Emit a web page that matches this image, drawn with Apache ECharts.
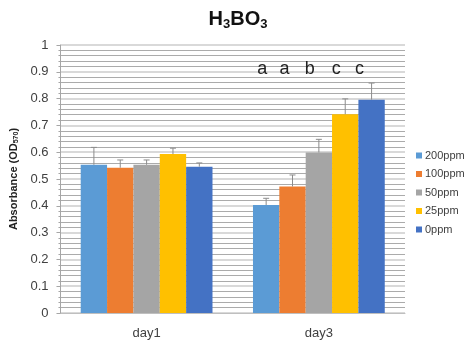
<!DOCTYPE html>
<html><head><meta charset="utf-8">
<script src="https://cdn.jsdelivr.net/npm/echarts@6/dist/echarts.min.js"></script>
<style>html,body{margin:0;padding:0;background:#fff}#c{width:470px;height:344px}</style>
</head><body><div id="c"></div>
<script>
var categories = ['day1', 'day3'];
var seriesNames = ['200ppm', '100ppm', '50ppm', '25ppm', '0ppm'];
var colors = ['#5B9BD5', '#ED7D31', '#A5A5A5', '#FFC000', '#4472C4'];
var v200 = [0.553, 0.403];
var v100 = [0.542, 0.472];
var v50 = [0.553, 0.599];
var v25 = [0.593, 0.742];
var v0 = [0.546, 0.796];
var e200 = [0.065, 0.025];
var e100 = [0.029, 0.043];
var e50 = [0.018, 0.049];
var e25 = [0.022, 0.057];
var e0 = [0.014, 0.062];
var letters = ['a', 'a', 'b', 'c', 'c'];
var letterOffsets = [-4, -8, -9, -9, -12];
var values = [v200, v100, v50, v25, v0];
var errors = [e200, e100, e50, e25, e0];
var gapRatio = 0.235;
var font = 'Liberation Sans';

var series = [];
seriesNames.forEach(function (n, i) {
  series.push({
    name: n, type: 'bar', data: values[i], barGap: '0%', barCategoryGap: '23.5%',
    itemStyle: { color: colors[i] },
    z: 2,
    markPoint: {
      symbol: 'circle', symbolSize: 0,
      data: [{ coord: ['day3', 0.912] }],
      label: { show: true, formatter: letters[i], color: '#222', fontSize: 18, fontFamily: font, offset: [letterOffsets[i], 0] }
    }
  });
});
seriesNames.forEach(function (n, i) {
  series.push({
    type: 'custom', name: n + '_err', z: 3, silent: true,
    data: categories.map(function (c, k) { return [k, values[i][k], values[i][k] + errors[i][k]]; }),
    renderItem: function (params, api) {
      var catW = api.size([1, 0])[0];
      var bw = catW * (1 - gapRatio) / 5;
      var base = api.coord([api.value(0), api.value(1)]);
      var top = api.coord([api.value(0), api.value(2)]);
      var x = base[0] + (i - 2) * bw;
      var cap = 3;
      return { type: 'group', children: [
        { type: 'line', shape: { x1: x, y1: base[1], x2: x, y2: top[1] }, style: { stroke: '#8c8c8c', lineWidth: 1 } },
        { type: 'line', shape: { x1: x - cap, y1: top[1], x2: x + cap, y2: top[1] }, style: { stroke: '#8c8c8c', lineWidth: 1 } }
      ] };
    }
  });
});

var chart = echarts.init(document.getElementById('c'));
chart.setOption({
  animation: false,
  title: {
    text: 'H{s|3}BO{s|3}', left: 233, top: 3, textAlign: 'center',
    textStyle: { fontSize: 20, fontWeight: 'bold', color: '#111', fontFamily: font,
      rich: { s: { fontSize: 13, fontWeight: 'bold', color: '#111', fontFamily: font, padding: [10, 0, 0, 0] } } }
  },
  legend: {
    orient: 'vertical', left: 411, top: 145, itemGap: 7.5, itemWidth: 6, itemHeight: 6,
    data: seriesNames, icon: 'rect',
    textStyle: { fontSize: 11, color: '#404040', fontFamily: font, padding: [0, 0, 0, -2] }
  },
  grid: { left: 57, right: 65, top: 45, bottom: 31 },
  xAxis: {
    type: 'category', data: categories,
    axisLine: { lineStyle: { color: '#bfbfbf' } },
    axisTick: { show: false },
    axisLabel: { fontSize: 13, color: '#404040', fontFamily: font, margin: 14 }
  },
  yAxis: {
    type: 'value', min: 0, max: 1, interval: 0.1,
    name: 'Absorbance (OD{s|570})', nameLocation: 'middle', nameGap: 40, nameRotate: 90,
    nameTextStyle: { fontSize: 11, fontWeight: 'bold', color: '#222', fontFamily: font,
      rich: { s: { fontSize: 7, fontWeight: 'bold', color: '#222', padding: [5, 0, 0, 0] } } },
    axisLine: { show: true, lineStyle: { color: '#a6a6a6' } },
    axisTick: { show: true, length: 4, lineStyle: { color: '#a6a6a6' } },
    minorTick: { show: true, splitNumber: 5, length: 2, lineStyle: { color: '#a6a6a6' } },
    axisLabel: { fontSize: 13, color: '#404040', fontFamily: font, margin: 12,
      formatter: function (v) { return String(Math.round(v * 10) / 10); } },
    splitLine: { show: true, lineStyle: { color: '#d9d9d9', width: 2 } },
    minorSplitLine: { show: true, lineStyle: { color: '#ababab', width: 1 } }
  },
  series: series
});
</script></body></html>
